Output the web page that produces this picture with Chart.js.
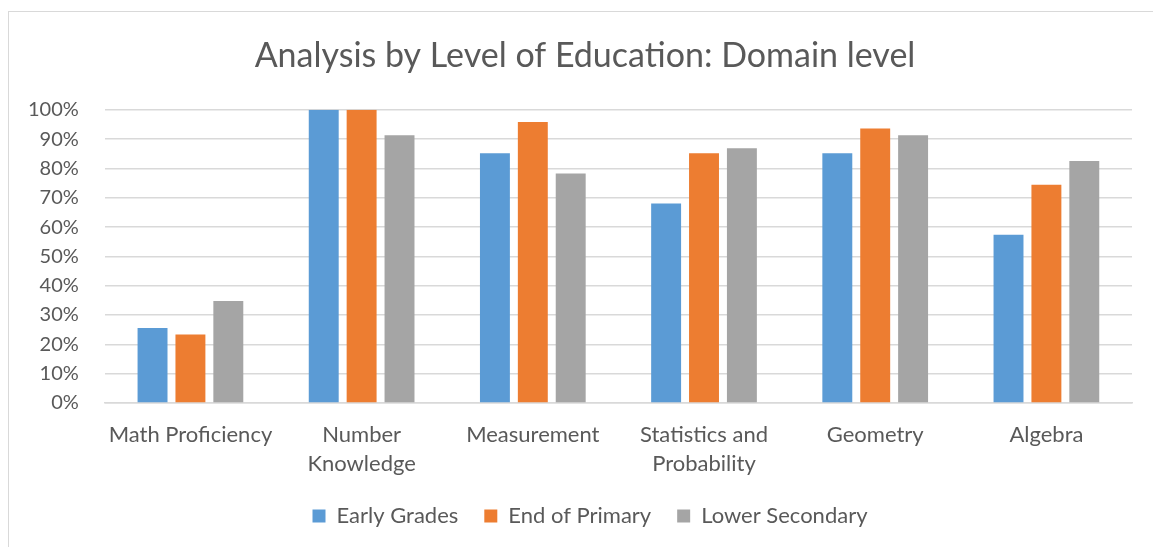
<!DOCTYPE html>
<html>
<head>
<meta charset="utf-8">
<script src="https://cdn.jsdelivr.net/npm/chart.js@4"></script>
<style>
  body { margin: 0; background: #fff; }
  #wrap { position: relative; width: 1153px; height: 547px; }
  #frame { position: absolute; left: 8px; top: 11px; width: 1150px; height: 545px; border: 1px solid #d9d9d9; pointer-events: none; }
</style>
</head>
<body>
<div id="wrap">
  <canvas id="myChart" width="1153" height="547"></canvas>
  <div id="frame"></div>
</div>
<script>
// categories and values (percent)
const categorias = [
  'Math Proficiency',
  ['Number', 'Knowledge'],
  'Measurement',
  ['Statistics and', 'Probability'],
  'Geometry',
  'Algebra'
];
const earlyGrades = [25.6, 100, 85.2, 68.0, 85.2, 57.4];
const endPrimary = [23.3, 100, 95.8, 85.2, 93.6, 74.4];
const lowerSecondary = [34.8, 91.3, 78.3, 86.9, 91.3, 82.5];
const yTicks = [0, 10, 20, 30, 40, 50, 60, 70, 80, 90, 100];

const cinza = '#595959';
const fonte = 'Lato, "Open Sans", sans-serif';

const ctx = document.getElementById('myChart');

// title and legend are centred on the outer frame, not on the plot
const deslocar = {
  id: 'deslocar',
  afterLayout(chart) {
    chart.titleBlock.left += 18;
    chart.titleBlock.right += 18;
    chart.legend.left += 23;
    chart.legend.right += 23;
  }
};

const data = {
  labels: categorias,
  datasets: [
    { label: 'Early Grades', data: earlyGrades, backgroundColor: '#5b9bd5' },
    { label: 'End of Primary', data: endPrimary, backgroundColor: '#ed7d31' },
    { label: 'Lower Secondary', data: lowerSecondary, backgroundColor: '#a5a5a5' }
  ]
};

const config = {
  type: 'bar',
  data,
  plugins: [deslocar],
  options: {
    responsive: false,
    animation: false,
    datasets: {
      bar: { categoryPercentage: 0.664, barPercentage: 0.79 }
    },
    layout: { padding: { left: 2, right: 21, top: 24, bottom: 10 } },
    plugins: {
      title: {
        display: true,
        text: 'Analysis by Level of Education: Domain level',
        color: cinza,
        font: { family: fonte, size: 34, weight: 'normal' },
        padding: { top: 12, bottom: 33 }
      },
      legend: {
        position: 'bottom',
        labels: {
          color: cinza,
          font: { family: fonte, size: 22 },
          boxWidth: 13,
          boxHeight: 13,
          padding: 26
        }
      },
      tooltip: { enabled: false }
    },
    scales: {
      x: {
        grid: { display: false },
        border: { color: '#d9d9d9', width: 1.5 },
        afterFit: (axis) => { axis.height -= 8; },
        ticks: {
          color: cinza,
          font: { family: fonte, size: 22, lineHeight: 1.32 },
          maxRotation: 0,
          autoSkip: false,
          padding: 9
        }
      },
      y: {
        min: 0,
        max: 100,
        afterBuildTicks: (axis) => { axis.ticks = yTicks.map(v => ({ value: v })); },
        grid: { color: '#d9d9d9', lineWidth: 1.5, drawTicks: false },
        border: { display: false },
        ticks: {
          color: cinza,
          font: { family: fonte, size: 20 },
          padding: 26,
          callback: (v) => v + '%'
        }
      }
    }
  }
};

const myChart = new Chart(ctx, config);
</script>
</body>
</html>
